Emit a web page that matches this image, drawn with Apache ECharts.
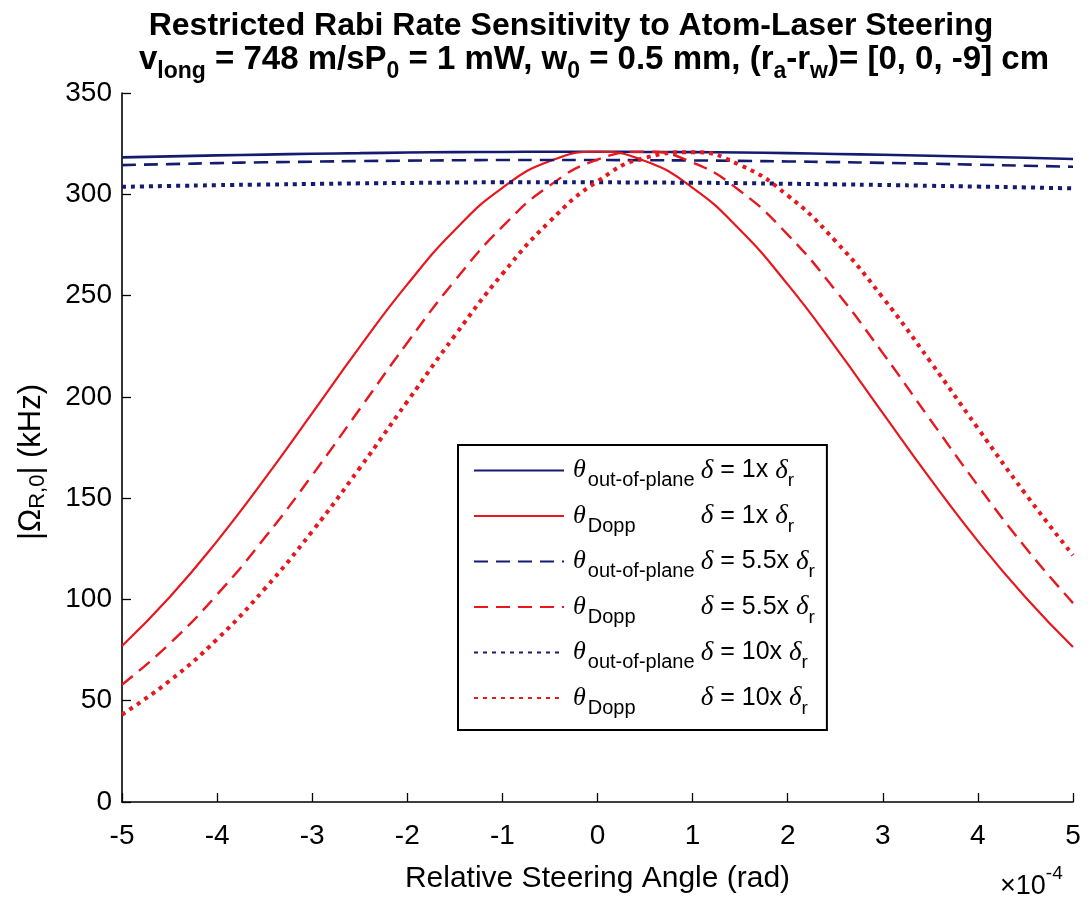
<!DOCTYPE html>
<html><head><meta charset="utf-8">
<script src="https://cdn.jsdelivr.net/npm/echarts@6/dist/echarts.min.js"></script>
<style>html,body{margin:0;padding:0;background:#fff}#c{width:1088px;height:900px}</style>
</head><body><div id="c"></div>
<script>
// steering angle (units of 1e-4 rad)
const xValues = [-5,-4.5,-4,-3.5,-3,-2.5,-2,-1.5,-1,-0.5,0,0.5,1,1.5,2,2.5,3,3.5,4,4.5,5];
const blueSolid  = [318.2,318.7,319.2,319.6,320.0,320.3,320.6,320.8,320.9,321.0,321.0,320.9,320.8,320.6,320.3,319.9,319.5,319.0,318.5,318.0,317.4];
const redSolid   = [77.0,101.1,128.8,159.5,192.0,224.7,255.5,282.4,303.2,316.4,321.0,316.4,303.2,282.4,255.5,224.7,192.0,159.5,128.8,101.1,76.5];
const blueDashed = [314.4,314.9,315.4,315.8,316.1,316.4,316.6,316.8,316.9,316.9,316.9,316.8,316.7,316.5,316.2,315.9,315.5,315.1,314.6,314.1,313.6];
const redDashed  = [57.9,78.1,102.4,130.4,161.3,194.0,226.7,257.4,284.0,304.4,317.1,321.0,315.7,301.6,280.1,252.7,221.6,188.7,156.2,125.6,98.2];
const blueDotted = [303.7,304.1,304.5,304.8,305.1,305.4,305.6,305.8,305.9,305.9,305.9,305.8,305.7,305.5,305.2,304.9,304.6,304.2,303.8,303.4,302.9];
const redDotted  = [43.2,59.8,80.4,105.2,133.6,164.9,197.7,230.3,260.7,286.7,306.4,318.0,320.8,314.4,299.4,277.0,249.0,217.4,184.5,152.1,121.8];
const legendPlanes = ['out-of-plane','Dopp','out-of-plane','Dopp','out-of-plane','Dopp'];
const legendDeltas = ['1x','1x','5.5x','5.5x','10x','10x'];
const titleLine1 = 'Restricted Rabi Rate Sensitivity to Atom-Laser Steering';

const BLUE = '#151c70', RED = '#e8171e';
const SANS = "'Liberation Sans', Arial, sans-serif";
const SERIF = "'Liberation Serif', 'DejaVu Serif', serif";
const pair = arr => xValues.map((x, i) => [x, arr[i]]);

const seriesDefs = [
  {key:'s0', data: blueSolid,  color: BLUE, type:'solid', width:2.6},
  {key:'s1', data: redSolid,   color: RED,  type:'solid', width:2.2},
  {key:'s2', data: blueDashed, color: BLUE, type:[14,8], width:2.6},
  {key:'s3', data: redDashed,  color: RED,  type:[14,8], width:2.4},
  {key:'s4', data: blueDotted, color: BLUE, type:[4,5],  width:4},
  {key:'s5', data: redDotted,  color: RED,  type:[4,5],  width:4}
];

const chart = echarts.init(document.getElementById('c'), null, {renderer:'canvas'});
chart.setOption({
  backgroundColor:'#fff',
  animation:false,
  title:[
    {text:'{t|'+titleLine1+'}', left:566, top:1, textAlign:'center',
     textStyle:{rich:{t:{fontFamily:SANS,fontWeight:'bold',fontSize:32,color:'#000',lineHeight:40}}}},
    {text:'{m|v}{s|long}{m| = 748 m/sP}{s|0}{m| = 1 mW, w}{s|0}{m| = 0.5 mm, (r}{s|a}{m|-r}{s|w}{m|)= [0, 0, -9] cm}',
     left:589, top:32, textAlign:'center',
     textStyle:{rich:{
       m:{fontFamily:SANS,fontWeight:'bold',fontSize:33,color:'#000',lineHeight:46,verticalAlign:'middle'},
       s:{fontFamily:SANS,fontWeight:'bold',fontSize:23,color:'#000',lineHeight:6,verticalAlign:'bottom'}
     }}}
  ],
  grid:{left:122,right:15,top:93,bottom:98,containLabel:false},
  xAxis:{
    type:'value',min:-5,max:5,interval:1,
    name:'Relative Steering Angle (rad)',nameLocation:'middle',nameGap:62,
    nameTextStyle:{fontFamily:SANS,fontSize:30,color:'#000'},
    axisLine:{show:true,onZero:false,lineStyle:{color:'#000',width:1.6}},
    axisTick:{show:true,inside:true,length:9,lineStyle:{color:'#000',width:1.3}},
    axisLabel:{fontFamily:SANS,fontSize:28,color:'#000',margin:20},
    splitLine:{show:false}
  },
  yAxis:{
    type:'value',min:0,max:350,interval:50,
    axisLine:{show:true,onZero:false,lineStyle:{color:'#000',width:1.6}},
    axisTick:{show:true,inside:true,length:9,lineStyle:{color:'#000',width:1.3}},
    axisLabel:{fontFamily:SANS,fontSize:28,color:'#000',margin:10},
    splitLine:{show:false}
  },
  legend:{
    orient:'vertical',left:458,top:445,
    padding:[12,12,12,15],itemGap:12,itemWidth:90,itemHeight:14,
    borderColor:'#000',borderWidth:2,backgroundColor:'#fff',
    selectedMode:false,
    itemStyle:{opacity:0},
    data:seriesDefs.map(d=>d.key),
    formatter:function(name){
      const i = seriesDefs.findIndex(d=>d.key===name);
      return '{th|θ}{sub|'+legendPlanes[i]+'}{del|δ}{eq| = '+legendDeltas[i]+' }{del|δ}{r|r}';
    },
    textStyle:{rich:{
      th:{fontFamily:SERIF,fontStyle:'italic',fontSize:26,color:'#000',lineHeight:40,verticalAlign:'middle',padding:[0,2,0,4]},
      sub:{fontFamily:SANS,fontSize:20,color:'#000',lineHeight:4,verticalAlign:'bottom',width:113},
      del:{fontFamily:SERIF,fontStyle:'italic',fontSize:27,color:'#000',lineHeight:40,verticalAlign:'middle'},
      eq:{fontFamily:SANS,fontSize:25,color:'#000',lineHeight:40,verticalAlign:'middle'},
      r:{fontFamily:SANS,fontSize:19,color:'#000',lineHeight:4,verticalAlign:'bottom'}
    }}
  },
  graphic:[
    {type:'text',left:1000,top:864,style:{
      text:'{a|×10}{b|-4}',
      rich:{a:{fontFamily:SANS,fontSize:27,fill:'#000',lineHeight:36,verticalAlign:'bottom'},
            b:{fontFamily:SANS,fontSize:19,fill:'#000',lineHeight:18,verticalAlign:'top'}}}},
    {type:'text',x:31,y:462,rotation:Math.PI/2,style:{
      text:'{a||Ω}{s|R,0}{a|| (kHz)}',align:'center',verticalAlign:'middle',
      rich:{a:{fontFamily:SANS,fontSize:31,fill:'#000',lineHeight:36,verticalAlign:'middle'},
            s:{fontFamily:SANS,fontSize:22,fill:'#000',lineHeight:8,verticalAlign:'bottom'}}}}
  ],
  series:seriesDefs.map(d=>({
    name:d.key,type:'line',data:pair(d.data),smooth:0.5,
    symbol:'none',showSymbol:false,
    lineStyle:{color:d.color,width:d.width,type:d.type,cap:'butt'},
    itemStyle:{color:d.color},
    emphasis:{disabled:true}
  }))
});
</script></body></html>
